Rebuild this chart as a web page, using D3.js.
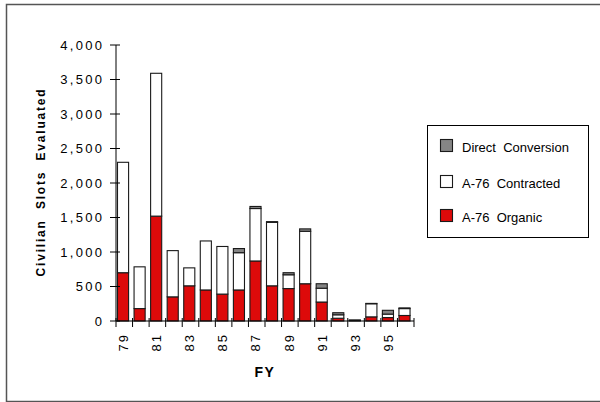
<!DOCTYPE html>
<html>
<head>
<meta charset="utf-8">
<script src="https://cdn.jsdelivr.net/npm/d3@7"></script>
<style>
  html, body { margin: 0; padding: 0; background: #fff; }
  svg { display: block; font-family: "Liberation Sans", Arial, sans-serif; }
  text { white-space: pre; }
</style>
</head>
<body>
<svg id="chart" width="600" height="402"></svg>
<script>
// Fiscal years (two-digit)
const years = ["79","80","81","82","83","84","85","86","87","88","89","90","91","92","93","94","95","96"];
// Civilian slots evaluated, by source
const organic    = [700, 180, 1520, 350, 510, 450, 390, 450, 870, 510, 470, 540, 275, 40, 10, 60, 50, 80];
const contracted = [1600, 605, 2070, 670, 260, 710, 690, 540, 760, 920, 200, 760, 200, 50, 0, 190, 50, 100];
const direct     = [0, 0, 0, 0, 0, 0, 0, 60, 30, 10, 30, 35, 65, 30, 5, 5, 55, 10];
const yTicks = [0, 500, 1000, 1500, 2000, 2500, 3000, 3500, 4000];
const seriesNames = ["A-76  Organic", "A-76  Contracted", "Direct  Conversion"];
const seriesColors = ["#dd0a0a", "#ffffff", "#858585"];

const rows = years.map((fy, i) => ({ fy, organic: organic[i], contracted: contracted[i], direct: direct[i] }));
const stack = d3.stack().keys(["organic", "contracted", "direct"])(rows);

const svg = d3.select("#chart");

// outer frame
svg.append("rect")
  .attr("x", 6.5).attr("y", 4.5).attr("width", 600).attr("height", 397)
  .attr("fill", "none").attr("stroke", "#555").attr("stroke-width", 1.5);

const x = d3.scaleBand().domain(years).range([116, 414]).paddingInner(0).paddingOuter(0);
const y = d3.scaleLinear().domain([0, 4000]).range([321, 45]);
const barW = x.bandwidth() * 0.67;

// stacked bars
const g = svg.append("g");
stack.forEach((layer, li) => {
  g.append("g")
    .selectAll("rect")
    .data(layer.filter(d => d[1] > d[0]))
    .join("rect")
      .attr("x", d => x(d.data.fy) + 1.5)
      .attr("y", d => y(d[1]))
      .attr("width", barW)
      .attr("height", d => y(d[0]) - y(d[1]))
      .attr("fill", seriesColors[li])
      .attr("stroke", "#1a1a1a")
      .attr("stroke-width", 1.1);
});

// y axis
const yAxis = svg.append("g");
yAxis.append("line")
  .attr("x1", 116).attr("x2", 116).attr("y1", y(4000)).attr("y2", y(0))
  .attr("stroke", "#000").attr("stroke-width", 1);
yAxis.selectAll("line.tick")
  .data(yTicks)
  .join("line")
    .attr("class", "tick")
    .attr("x1", 110).attr("x2", 120)
    .attr("y1", d => y(d)).attr("y2", d => y(d))
    .attr("stroke", "#000");
yAxis.selectAll("text")
  .data(yTicks)
  .join("text")
    .attr("x", 104.3)
    .attr("y", d => y(d))
    .attr("dy", "0.36em")
    .attr("text-anchor", "end")
    .attr("font-size", 13)
    .attr("letter-spacing", 2.3)
    .text(d => d3.format(",")(d));

// x axis
const xAxis = svg.append("g");
xAxis.append("line")
  .attr("x1", 116).attr("x2", 414).attr("y1", y(0)).attr("y2", y(0))
  .attr("stroke", "#000").attr("stroke-width", 1.2);
const bounds = years.map(fy => x(fy)).concat([x.range()[1]]);
xAxis.selectAll("line.tick")
  .data(bounds)
  .join("line")
    .attr("class", "tick")
    .attr("x1", d => d).attr("x2", d => d)
    .attr("y1", y(0) - 3).attr("y2", y(0) + 6)
    .attr("stroke", "#000");
xAxis.selectAll("text")
  .data(years.filter((fy, i) => i % 2 === 0))
  .join("text")
    .attr("transform", d => `translate(${x(d) + 1.5 + barW / 2 + 5},${335 - 2}) rotate(-90)`)
    .attr("text-anchor", "end")
    .attr("font-size", 13)
    .attr("letter-spacing", 2)
    .text(d => d);

// axis titles
svg.append("text")
  .attr("transform", "translate(45,182) rotate(-90)")
  .attr("text-anchor", "middle")
  .attr("font-size", 12)
  .attr("font-weight", "bold")
  .attr("letter-spacing", 1.8)
  .text("Civilian  Slots  Evaluated");
svg.append("text")
  .attr("x", 265).attr("y", 377)
  .attr("text-anchor", "middle")
  .attr("font-size", 14)
  .attr("font-weight", "bold")
  .attr("letter-spacing", 1.5)
  .text("FY");

// legend
const legend = svg.append("g");
legend.append("rect")
  .attr("x", 427.5).attr("y", 125.5).attr("width", 161).attr("height", 112)
  .attr("fill", "#fff").attr("stroke", "#000").attr("stroke-width", 1);
const legendItems = [2, 1, 0];
const legendRows = legend.selectAll("g.item")
  .data(legendItems)
  .join("g")
    .attr("class", "item")
    .attr("transform", (d, i) => `translate(0,${[139, 175, 209][i]})`);
legendRows.append("rect")
  .attr("x", 440.5).attr("y", 0.5).attr("width", 12).attr("height", 12)
  .attr("fill", d => seriesColors[d])
  .attr("stroke", "#1a1a1a").attr("stroke-width", 1.1);
legendRows.append("text")
  .attr("x", 462).attr("y", 12.5)
  .attr("font-size", 13)
  .text(d => seriesNames[d]);
</script>
</body>
</html>
